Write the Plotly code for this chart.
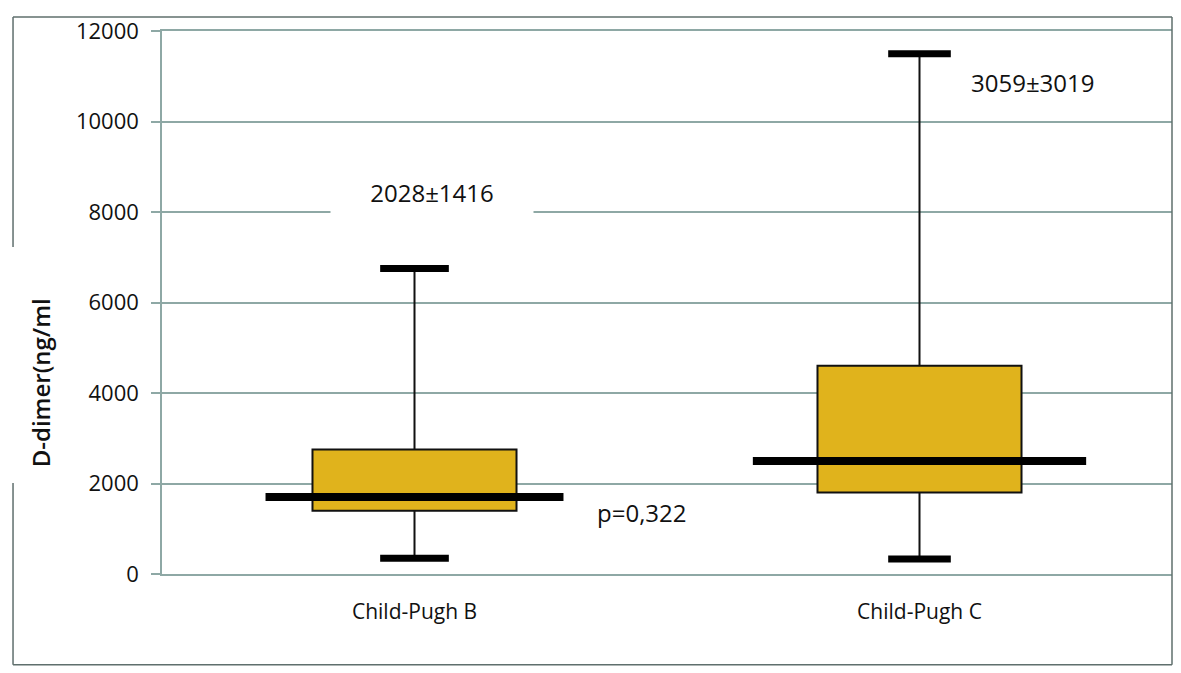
import plotly.graph_objects as go

# Box-plot summary per Child-Pugh class (D-dimer, ng/ml)
groups = ["Child-Pugh B", "Child-Pugh C"]
lower_fence = [350, 330]
q1 = [1400, 1800]
median = [1700, 2500]
q3 = [2750, 4600]
upper_fence = [6750, 11500]

mean_sd_labels = ["2028±1416", "3059±3019"]
p_label = "p=0,322"
y_ticks = [0, 2000, 4000, 6000, 8000, 10000, 12000]
y_tick_text = ["0", "2000", "4000", "6000", "8000", "10000", "12000"]
y_title = "D-dimer(ng/ml"

# styling
FONT = "Open Sans"
INK = "#111111"
GRID = "#8ea8a5"
BOX_FILL = "#E0B31C"
BOX_HALF = 0.202
MEDIAN_HALF = [0.295, 0.33]
CAP_HALF = [0.068, 0.062]

xpos = list(range(len(groups)))

fig = go.Figure()

fig.add_trace(go.Box(
    x=xpos, q1=q1, median=median, q3=q3,
    lowerfence=lower_fence, upperfence=upper_fence,
    width=2 * BOX_HALF, whiskerwidth=0,
    fillcolor=BOX_FILL, line=dict(color="#111111", width=2),
    boxpoints=False, hoverinfo="skip", showlegend=False,
))

# thick median bars extending past the boxes
for i, x in enumerate(xpos):
    fig.add_trace(go.Scatter(
        x=[x - MEDIAN_HALF[i], x + MEDIAN_HALF[i]], y=[median[i], median[i]],
        mode="lines", line=dict(color="#000000", width=8),
        hoverinfo="skip", showlegend=False,
    ))
    # heavy whisker caps
    for v in (lower_fence[i], upper_fence[i]):
        fig.add_trace(go.Scatter(
            x=[x - CAP_HALF[i], x + CAP_HALF[i]], y=[v, v],
            mode="lines", line=dict(color="#000000", width=7),
            hoverinfo="skip", showlegend=False,
        ))

text_font = dict(family=FONT, size=24, color=INK, weight=500)
annotations = [
    dict(x=0.035, y=8450, text=mean_sd_labels[0], showarrow=False,
         font=text_font, bgcolor="white", width=200, height=62),
    dict(x=1.225, y=10870, text=mean_sd_labels[1], showarrow=False,
         font=text_font),
    dict(x=0.45, y=1350, text=p_label, showarrow=False, font=text_font),
    # vertical axis title
    dict(xref="paper", yref="paper", x=-0.1203, y=0.352, text=y_title,
         textangle=-90, showarrow=False, xanchor="center", yanchor="middle",
         font=dict(family=FONT, size=24, color=INK, weight=600)),
]

# outer chart frame (left edge interrupted by the axis title)
frame = dict(type="line", xref="paper", yref="paper",
             line=dict(color="#5f6f6d", width=1.5))
shapes = [
    dict(frame, x0=-0.1475, x1=1.0, y0=1.026, y1=1.026),
    dict(frame, x0=1.0, x1=1.0, y0=1.026, y1=-0.167),
    dict(frame, x0=-0.1475, x1=1.0, y0=-0.167, y1=-0.167),
    dict(frame, x0=-0.1475, x1=-0.1475, y0=1.026, y1=0.602),
    dict(frame, x0=-0.1475, x1=-0.1475, y0=0.1676, y1=-0.167),
]

fig.update_layout(
    width=1181, height=673,
    margin=dict(l=162, r=9, t=31, b=99),
    paper_bgcolor="white", plot_bgcolor="white",
    font=dict(family=FONT, color=INK),
    annotations=annotations, shapes=shapes,
    xaxis=dict(
        range=[-0.5, 1.5], tickvals=xpos, ticktext=groups,
        showgrid=False, zeroline=False,
        showline=True, mirror=True, linecolor=GRID, linewidth=1.5,
        ticks="",
        tickfont=dict(family=FONT, size=21, color=INK, weight=500),
        ticklabelstandoff=18, fixedrange=True,
    ),
    yaxis=dict(
        range=[0, 12000], tickvals=y_ticks, ticktext=y_tick_text,
        showgrid=True, gridcolor=GRID, gridwidth=1.5,
        zeroline=False, showline=True, linecolor=GRID, linewidth=1.5,
        ticks="outside", ticklen=9, tickcolor=GRID, tickwidth=1.5,
        tickfont=dict(family=FONT, size=22, color=INK, weight=500),
        ticklabelstandoff=8,
        fixedrange=True,
    ),
)

fig.write_html("out.html")
